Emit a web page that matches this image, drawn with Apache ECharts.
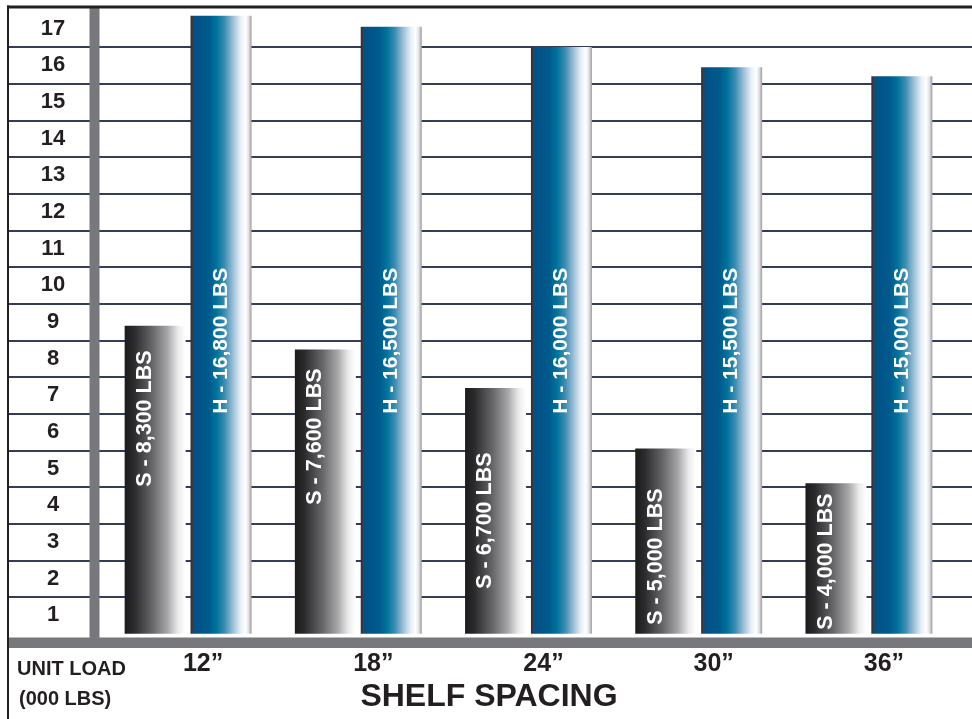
<!DOCTYPE html>
<html>
<head>
<meta charset="utf-8">
<script src="https://cdn.jsdelivr.net/npm/echarts@6/dist/echarts.min.js"></script>
<style>
html,body{margin:0;padding:0;background:#ffffff;}
#chart{width:972px;height:719px;}
</style>
</head>
<body>
<div id="chart"></div>
<script>
// ---- data ----
const categories = ['12\u201D', '18\u201D', '24\u201D', '30\u201D', '36\u201D'];
const yTickLabels = ['1','2','3','4','5','6','7','8','9','10','11','12','13','14','15','16','17'];
const sValues = [8.4, 7.75, 6.7, 5.05, 4.1];
const hValues = [16.85, 16.55, 16.0, 15.45, 15.2];
const sLabels = ['S - 8,300 LBS', 'S - 7,600 LBS', 'S - 6,700 LBS', 'S - 5,000 LBS', 'S - 4,000 LBS'];
const hLabels = ['H - 16,800 LBS', 'H - 16,500 LBS', 'H - 16,000 LBS', 'H - 15,500 LBS', 'H - 15,000 LBS'];
const yAxisTitle = ['UNIT LOAD', '(000 LBS)'];
const xAxisTitle = 'SHELF SPACING';

// ---- styles ----
const sLabelLift = [147, 129, 45, 9, 4];
const ink = '#231f20';
const gray = '#77787b';
const gridColor = '#323d58';
const sGradient = new echarts.graphic.LinearGradient(0, 0, 1, 0, [
  {offset: 0, color: '#1b1b1c'},
  {offset: 0.15, color: '#2a2a2c'},
  {offset: 0.45, color: '#666668'},
  {offset: 0.7, color: '#a6a6a8'},
  {offset: 0.88, color: '#ececed'},
  {offset: 1, color: '#ffffff'}
]);
const hGradient = new echarts.graphic.LinearGradient(0, 0, 1, 0, [
  {offset: 0, color: '#2c2c33'},
  {offset: 0.04, color: '#3a3f4c'},
  {offset: 0.06, color: '#005186'},
  {offset: 0.3, color: '#005a8c'},
  {offset: 0.43, color: '#00739b'},
  {offset: 0.56, color: '#3d8cb2'},
  {offset: 0.7, color: '#9fc0d8'},
  {offset: 0.82, color: '#e6eff6'},
  {offset: 0.9, color: '#ffffff'},
  {offset: 0.95, color: '#e4e4e6'},
  {offset: 1, color: '#9a9a9f'}
]);
const baseFont = "'Liberation Sans', Arial, sans-serif";

const sData = sValues.map((v, i) => ({
  value: v,
  label: {
    show: true, formatter: sLabels[i], position: 'insideBottom', distance: sLabelLift[i],
    rotate: 90, align: 'left', verticalAlign: 'middle', offset: [0, -10],
    color: '#ffffff', fontWeight: 'bold', fontSize: 21.5, fontFamily: baseFont
  }
}));
const hData = hValues.map((v, i) => ({
  value: v,
  label: {
    show: true, formatter: hLabels[i], position: 'insideBottom', distance: 220,
    rotate: 90, align: 'left', verticalAlign: 'middle',
    color: '#ffffff', fontWeight: 'bold', fontSize: 21, fontFamily: baseFont
  }
}));

const chart = echarts.init(document.getElementById('chart'), null, {renderer: 'canvas'});
chart.setOption({
  animation: false,
  backgroundColor: '#ffffff',
  grid: [
    {left: 8, right: 0, top: 10.3, bottom: 85.3, outerBoundsMode: 'none', containLabel: false},
    {left: 103, right: 18, top: 10.3, bottom: 82, outerBoundsMode: 'none', containLabel: false}
  ],
  xAxis: [
    {gridIndex: 0, type: 'value', show: false, min: 0, max: 1},
    {
      gridIndex: 1, type: 'category', data: categories,
      axisLine: {show: false}, axisTick: {show: false},
      axisLabel: {
        color: ink, fontSize: 25, fontWeight: 'bold', fontFamily: baseFont,
        margin: 15, padding: [0, 0, 0, 30]
      }
    }
  ],
  yAxis: [
    {
      gridIndex: 0, type: 'category', data: yTickLabels,
      axisLine: {show: false}, axisTick: {show: false},
      axisLabel: {
        inside: true, margin: 45, align: 'center',
        color: ink, fontSize: 22, fontWeight: 'bold', fontFamily: baseFont
      },
      splitLine: {show: true, showMaxLine: false, showMinLine: false, lineStyle: {color: gridColor, width: 2}}
    },
    {gridIndex: 1, type: 'value', min: -0.09, max: 17, show: false, splitLine: {show: false}}
  ],
  series: [
    {
      type: 'bar', xAxisIndex: 1, yAxisIndex: 1, data: sData,
      barWidth: 61, barGap: '8%', itemStyle: {color: sGradient}, z: 3
    },
    {
      type: 'bar', xAxisIndex: 1, yAxisIndex: 1, data: hData,
      barWidth: 61, barGap: '8%', itemStyle: {color: hGradient}, z: 3
    }
  ],
  graphic: [
    {type: 'rect', z: 10, shape: {x: 89.5, y: 7, width: 10, height: 640}, style: {fill: gray}},
    {type: 'rect', z: 10, shape: {x: 8, y: 637.5, width: 964, height: 10.5}, style: {fill: gray}},
    {type: 'rect', z: 11, shape: {x: 7, y: 5.5, width: 965, height: 3}, style: {fill: ink}},
    {type: 'rect', z: 11, shape: {x: 7, y: 5.5, width: 2, height: 714}, style: {fill: ink}},
    {type: 'text', z: 11, left: 17, top: 659, style: {text: yAxisTitle[0], fill: ink, font: "bold 20px " + baseFont}},
    {type: 'text', z: 11, left: 19, top: 689, style: {text: yAxisTitle[1], fill: ink, font: "bold 20px " + baseFont}},
    {type: 'text', z: 11, x: 489, y: 697, style: {text: xAxisTitle, fill: ink, font: "bold 32px " + baseFont, align: 'center', verticalAlign: 'middle'}}
  ]
});
</script>
</body>
</html>
